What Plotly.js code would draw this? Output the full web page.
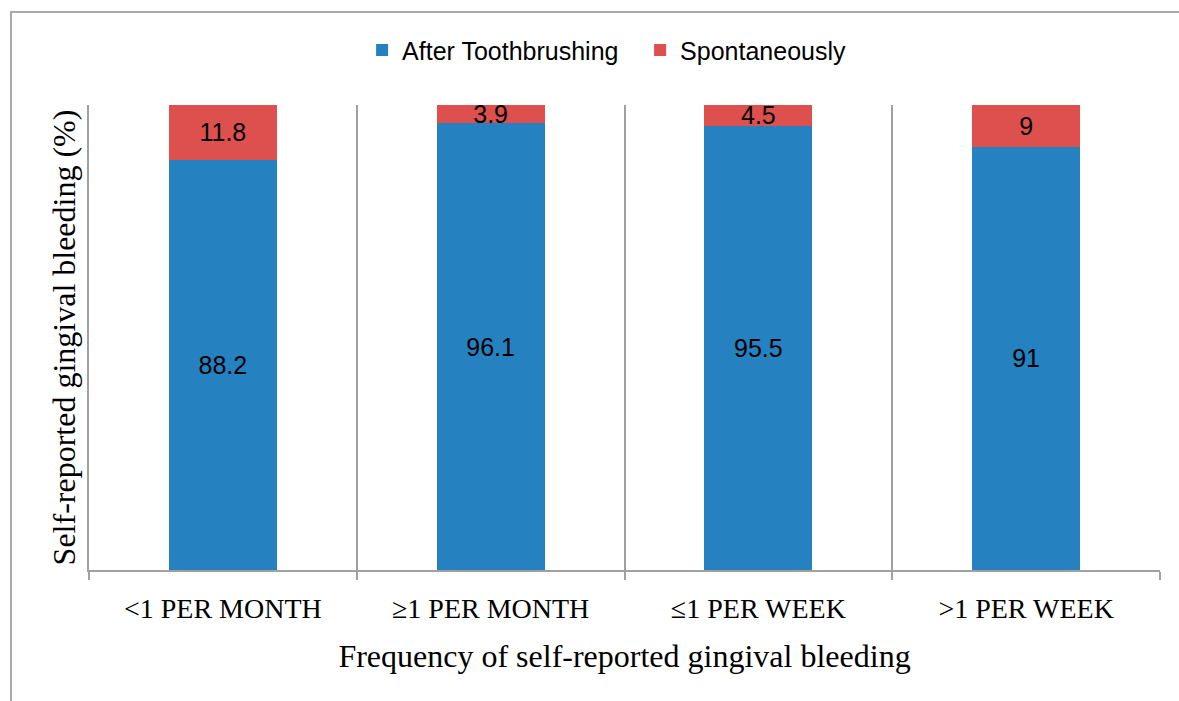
<!DOCTYPE html>
<html>
<head>
<meta charset="utf-8">
<script src="https://cdn.plot.ly/plotly-3.0.1.min.js"></script>
<style>
  html, body { margin: 0; padding: 0; background: #fff; }
  #wrap { position: relative; width: 1179px; height: 701px; }
  #frame { position: absolute; left: 10px; top: 11px; width: 1200px; height: 720px;
           border-left: 2px solid #a9a9a9; border-top: 2px solid #a9a9a9; pointer-events: none; z-index: 2; }
  #chart { position: absolute; left: 0; top: 0; width: 1179px; height: 701px; }
</style>
</head>
<body>
<div id="wrap">
  <div id="chart"></div>
  <div id="frame"></div>
</div>
<script>
const categories = ['<1 PER MONTH', '\u22651 PER MONTH', '\u22641 PER WEEK', '>1 PER WEEK'];
const afterToothbrushing = [88.2, 96.1, 95.5, 91];
const spontaneously = [11.8, 3.9, 4.5, 9];
const seriesNames = ['After Toothbrushing', 'Spontaneously'];
const xTitle = 'Frequency of self-reported gingival bleeding';
const yTitle = 'Self-reported gingival bleeding (%)';

const labelFont = { family: 'Liberation Sans, Arial, sans-serif', size: 25, color: '#000' };
const serif = 'Liberation Serif, Times New Roman, serif';

const traces = [
  {
    type: 'bar', name: seriesNames[0], x: categories, y: afterToothbrushing,
    text: afterToothbrushing.map(String), textposition: 'inside', insidetextanchor: 'middle',
    constraintext: 'none', textfont: labelFont, insidetextfont: labelFont,
    marker: { color: '#2581c0', line: { width: 0 } }, hoverinfo: 'none'
  },
  {
    type: 'bar', name: seriesNames[1], x: categories, y: spontaneously,
    text: spontaneously.map(String), textposition: 'inside', insidetextanchor: 'middle',
    constraintext: 'none', textfont: labelFont, insidetextfont: labelFont,
    marker: { color: '#de504e', line: { width: 0 } }, hoverinfo: 'none'
  }
];

const layout = {
  width: 1179, height: 701,
  margin: { l: 89, r: 19, t: 105, b: 131 },
  barmode: 'stack',
  bargap: 0.597,
  paper_bgcolor: '#fff', plot_bgcolor: '#fff',
  showlegend: true,
  legend: {
    orientation: 'h', x: 0.255, xanchor: 'left', y: 1.118, yanchor: 'middle',
    font: { family: 'Liberation Sans, Arial, sans-serif', size: 25, color: '#000' },
    traceorder: 'normal', itemwidth: 30, entrywidth: 233, entrywidthmode: 'pixels'
  },
  xaxis: {
    type: 'category', tickson: 'boundaries', range: [-0.5, 3.5],
    showgrid: true, gridcolor: '#a0a0a0', gridwidth: 2,
    showline: true, linecolor: '#a0a0a0', linewidth: 2,
    ticks: 'outside', ticklen: 8, tickcolor: '#a0a0a0', tickwidth: 2,
    ticklabelstandoff: 12,
    tickfont: { family: serif, size: 28, color: '#000' },
    title: { text: xTitle, font: { family: serif, size: 32, color: '#000' }, standoff: 22 },
    zeroline: false, fixedrange: true
  },
  yaxis: {
    range: [0, 100], showgrid: false, zeroline: false,
    showline: true, linecolor: '#a0a0a0', linewidth: 2,
    showticklabels: false, ticks: '',
    title: { text: yTitle, font: { family: serif, size: 32, color: '#000' }, standoff: 2 },
    fixedrange: true
  }
};

Plotly.newPlot('chart', traces, layout, { staticPlot: true, displayModeBar: false });
</script>
</body>
</html>
